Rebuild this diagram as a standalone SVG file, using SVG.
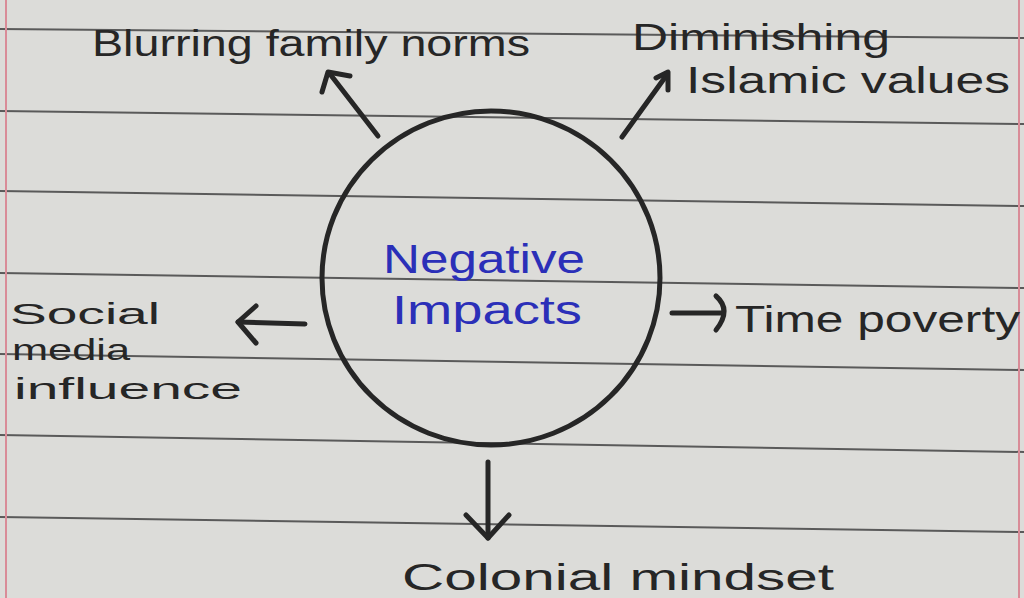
<svg xmlns="http://www.w3.org/2000/svg" width="1024" height="598" viewBox="0 0 1024 598">
  <defs>
    <style>
      .paper { fill: #dcdcd9; }
      .rule { stroke: #5a5a5a; stroke-width: 2; fill: none; }
      .margin { stroke: #d98c98; stroke-width: 2; fill: none; }
      .ink { fill: #262626; font-family: "Liberation Sans", "DejaVu Sans", sans-serif; font-size: 36px; }
      .small { font-size: 30px; }
      .blue { fill: #2b2fb8; font-family: "Liberation Sans", "DejaVu Sans", sans-serif; font-size: 40px; }
      .pen { stroke: #262626; stroke-width: 5; fill: none; stroke-linecap: round; stroke-linejoin: round; }
    </style>
  </defs>
  <rect class="paper" x="0" y="0" width="1024" height="598"/>
  <g id="paper-rules">
    <line class="rule" x1="0" y1="29" x2="1024" y2="38"/>
    <line class="rule" x1="0" y1="111" x2="1024" y2="124"/>
    <line class="rule" x1="0" y1="191" x2="1024" y2="206"/>
    <line class="rule" x1="0" y1="273" x2="1024" y2="288"/>
    <line class="rule" x1="0" y1="354" x2="1024" y2="370"/>
    <line class="rule" x1="0" y1="435" x2="1024" y2="452"/>
    <line class="rule" x1="0" y1="517" x2="1024" y2="532"/>
    <line class="margin" x1="6" y1="0" x2="6" y2="598"/>
    <line class="margin" x1="1019" y1="0" x2="1019" y2="598"/>
  </g>
  <g id="center">
    <ellipse cx="491" cy="278" rx="169" ry="167" fill="none" stroke="#262626" stroke-width="5"/>
    <text class="blue" x="383" y="273" textLength="202" lengthAdjust="spacingAndGlyphs">Negative</text>
    <text class="blue" x="392" y="324" textLength="190" lengthAdjust="spacingAndGlyphs">Impacts</text>
  </g>
  <g id="connectors">
    <path class="pen" d="M378,136 L330,74"/>
    <path class="pen" d="M322,92 L328,72 L350,76"/>
    <path class="pen" d="M622,137 L666,76"/>
    <path class="pen" d="M656,78 L668,72 L668,90"/>
    <path class="pen" d="M305,324 L238,322"/>
    <path class="pen" d="M256,306 L238,322 L256,343"/>
    <path class="pen" d="M672,313 L722,313"/>
    <path class="pen" d="M716,296 Q732,310 716,330"/>
    <path class="pen" d="M488,462 L488,538"/>
    <path class="pen" d="M466,515 L488,538 L509,515"/>
  </g>
  <g id="node-blurring">
    <text class="ink" x="92" y="56" textLength="438" lengthAdjust="spacingAndGlyphs">Blurring family norms</text>
  </g>
  <g id="node-diminishing">
    <text class="ink" x="632" y="50" textLength="258" lengthAdjust="spacingAndGlyphs">Diminishing</text>
    <text class="ink" x="686" y="93" textLength="324" lengthAdjust="spacingAndGlyphs">Islamic values</text>
  </g>
  <g id="node-social">
    <text class="ink small" x="10" y="324" textLength="150" lengthAdjust="spacingAndGlyphs">Social</text>
    <text class="ink small" x="12" y="360" textLength="118" lengthAdjust="spacingAndGlyphs">media</text>
    <text class="ink small" x="14" y="399" textLength="228" lengthAdjust="spacingAndGlyphs">influence</text>
  </g>
  <g id="node-time">
    <text class="ink" x="735" y="332" textLength="285" lengthAdjust="spacingAndGlyphs">Time poverty</text>
  </g>
  <g id="node-colonial">
    <text class="ink" x="402" y="590" textLength="432" lengthAdjust="spacingAndGlyphs">Colonial mindset</text>
  </g>
</svg>
